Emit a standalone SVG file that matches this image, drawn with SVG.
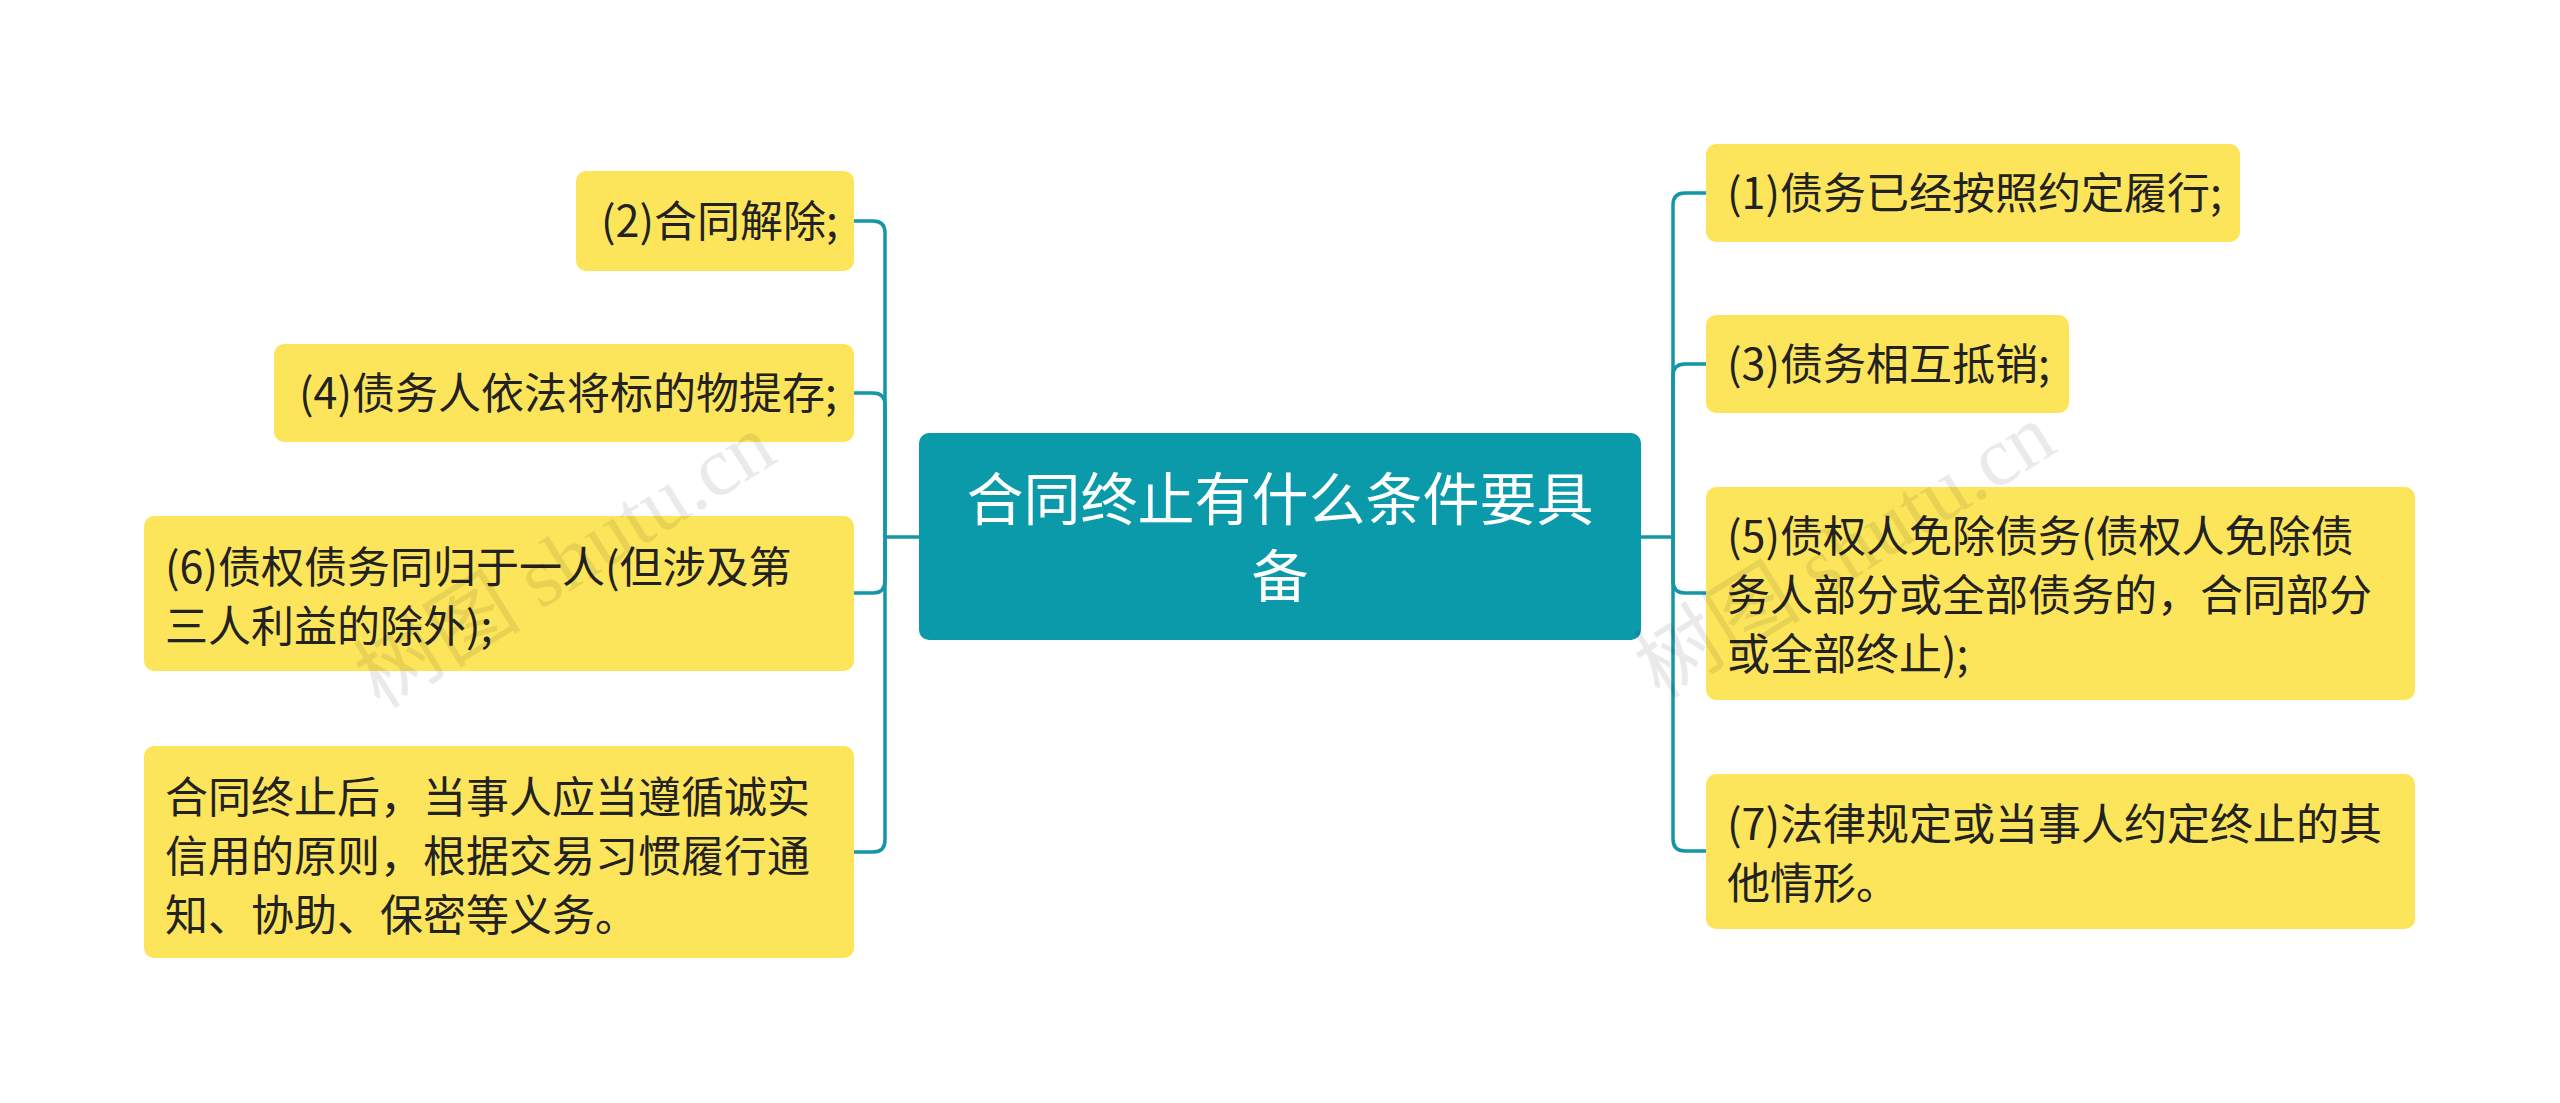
<svg xmlns="http://www.w3.org/2000/svg" width="2560" height="1103" viewBox="0 0 2560 1103">
<style>
.n{fill:#FDE55B;}
.t{font-family:"Noto Sans CJK SC","Liberation Sans",sans-serif;font-size:43px;fill:#222;}
.c{fill:none;stroke:#1596A6;stroke-width:3.5;}
.w{font-family:"Liberation Serif","Noto Sans CJK SC",serif;font-size:84px;fill:#000;opacity:0.08;}
</style>
<rect width="2560" height="1103" fill="#fff"/>
<g id="connectors">
<path class="c" d="M919 537 H885"/>
<path class="c" d="M885 537 V233 Q885 221 873 221 H854"/>
<path class="c" d="M885 537 V405 Q885 393 873 393 H854"/>
<path class="c" d="M885 537 V581 Q885 593 873 593 H854"/>
<path class="c" d="M885 537 V840 Q885 852 873 852 H854"/>
<path class="c" d="M1641 537 H1673"/>
<path class="c" d="M1673 537 V205 Q1673 193 1685 193 H1706"/>
<path class="c" d="M1673 537 V376 Q1673 364 1685 364 H1706"/>
<path class="c" d="M1673 537 V581 Q1673 593 1685 593 H1706"/>
<path class="c" d="M1673 537 V839 Q1673 851 1685 851 H1706"/>
</g>
<g id="center">
<rect x="919" y="433" width="722" height="207" rx="10" fill="#0A9AAA"/>
<text x="1280" y="520" text-anchor="middle" font-family="Noto Sans CJK SC,Liberation Sans,sans-serif" font-size="57" fill="#fff">合同终止有什么条件要具</text>
<text x="1280" y="597" text-anchor="middle" font-family="Noto Sans CJK SC,Liberation Sans,sans-serif" font-size="57" fill="#fff">备</text>
</g>
<g id="l1"><rect class="n" x="576" y="171" width="278" height="100" rx="10"/><text class="t" x="601" y="237">(2)合同解除;</text></g>
<g id="l2"><rect class="n" x="274" y="344" width="580" height="98" rx="10"/><text class="t" x="299" y="409">(4)债务人依法将标的物提存;</text></g>
<g id="l3"><rect class="n" x="144" y="516" width="710" height="155" rx="10"/><text class="t" x="165" y="583">(6)债权债务同归于一人(但涉及第</text><text class="t" x="165" y="642">三人利益的除外);</text></g>
<g id="l4"><rect class="n" x="144" y="746" width="710" height="212" rx="10"/><text class="t" x="165" y="813">合同终止后，当事人应当遵循诚实</text><text class="t" x="165" y="872">信用的原则，根据交易习惯履行通</text><text class="t" x="165" y="931">知、协助、保密等义务。</text></g>
<g id="r1"><rect class="n" x="1706" y="144" width="534" height="98" rx="10"/><text class="t" x="1727" y="209">(1)债务已经按照约定履行;</text></g>
<g id="r2"><rect class="n" x="1706" y="315" width="363" height="98" rx="10"/><text class="t" x="1727" y="380">(3)债务相互抵销;</text></g>
<g id="r3"><rect class="n" x="1706" y="487" width="709" height="213" rx="10"/><text class="t" x="1727" y="552">(5)债权人免除债务(债权人免除债</text><text class="t" x="1727" y="611">务人部分或全部债务的，合同部分</text><text class="t" x="1727" y="670">或全部终止);</text></g>
<g id="r4"><rect class="n" x="1706" y="774" width="709" height="155" rx="10"/><text class="t" x="1727" y="840">(7)法律规定或当事人约定终止的其</text><text class="t" x="1727" y="899">他情形。</text></g>
<text class="w" transform="translate(380 710) rotate(-32)">树图 shutu.cn</text>
<text class="w" transform="translate(1660 700) rotate(-32)">树图 shutu.cn</text>
</svg>
